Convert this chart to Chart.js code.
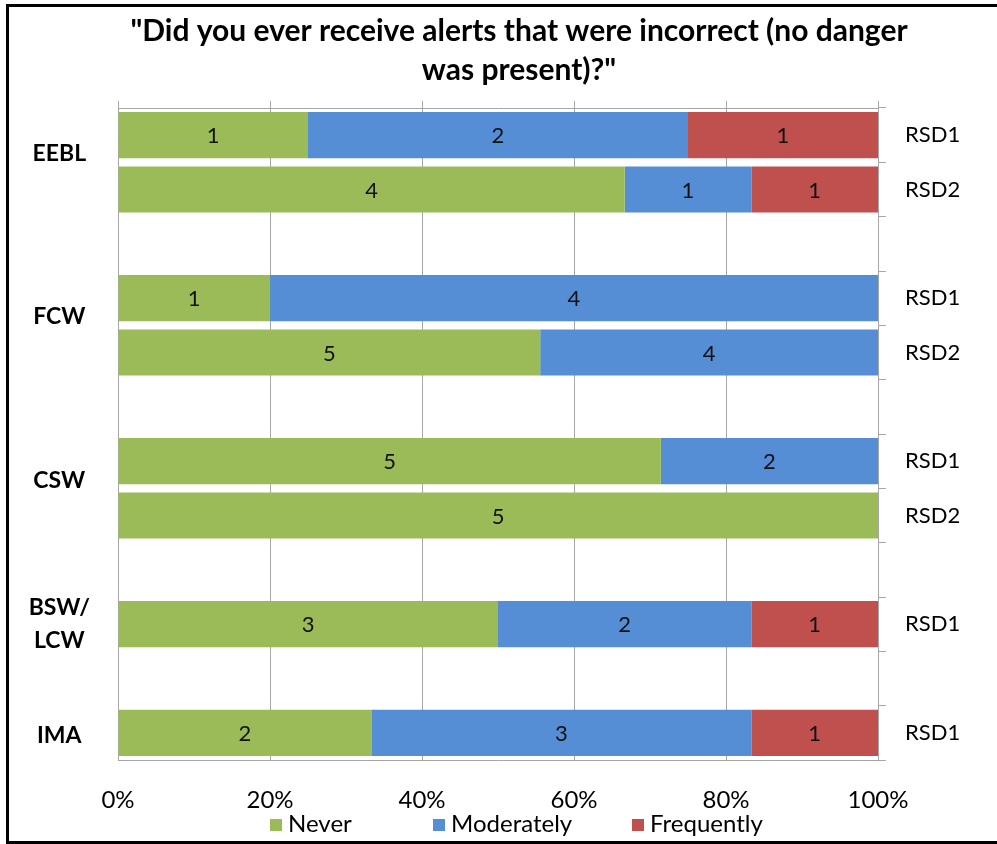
<!DOCTYPE html>
<html>
<head>
<meta charset="utf-8">
<script src="https://cdn.jsdelivr.net/npm/chart.js@4.4.1/dist/chart.umd.min.js"></script>
<style>
  body { margin: 0; background: #fff; }
  #wrap { position: relative; width: 997px; height: 844px; overflow: hidden; font-family: Lato, sans-serif; }
  #frame { position: absolute; left: 6px; top: 4px; width: 1000px; height: 840px;
           box-sizing: border-box; border: 3px solid #000; pointer-events: none; }
  .leg { position: absolute; top: 811px; height: 24px; line-height: 24px; font-size: 24px; color: #000; white-space: nowrap; }
  .leg i { display: inline-block; width: 12px; height: 12px; margin-right: 6px; vertical-align: 1px; }
</style>
</head>
<body>
<div id="wrap">
  <canvas id="alertsChart" width="997" height="844"></canvas>
  <div id="legend"></div>
  <div id="frame"></div>
</div>
<script>
// rows from top to bottom (empty rows are the gaps between groups)
const rowLabels = ['RSD1', 'RSD2', '', 'RSD1', 'RSD2', '', 'RSD1', 'RSD2', '', 'RSD1', '', 'RSD1'];
const groupLabels = ['EEBL', 'FCW', 'CSW', ['BSW/', 'LCW'], 'IMA'];
const groupPos = [0.83, 3.83, 6.85, 9.5, 11.55];

// number of answers per row
const neverCounts      = [1, 4, null, 1, 5, null, 5, 5, null, 3, null, 2];
const moderatelyCounts = [2, 1, null, 4, 4, null, 2, 0, null, 2, null, 3];
const frequentlyCounts = [1, 1, null, 0, 0, null, 0, 0, null, 1, null, 1];

const seriesNames = ['Never', 'Moderately', 'Frequently'];
const seriesColors = ['#9BBB59', '#558ED5', '#C0504D'];
const legendLeft = [270, 433, 632];

const allCounts = [neverCounts, moderatelyCounts, frequentlyCounts];
const rowTotals = rowLabels.map((_, i) => allCounts.reduce((s, c) => s + (c[i] || 0), 0));
const toPct = counts => counts.map((c, i) => c === null ? null : c / rowTotals[i] * 100);

const gridColor = '#A6A6A6';
Chart.defaults.font.family = 'Lato';
Chart.defaults.color = '#000';

// legend under the axis, spaced like the original
document.getElementById('legend').innerHTML = seriesNames.map((name, i) =>
    '<div class="leg" style="left:' + legendLeft[i] + 'px"><i style="background:' + seriesColors[i] + '"></i>' + name + '</div>'
).join('');

const barLabels = {
    id: 'barLabels',
    afterDatasetsDraw(chart) {
        const ctx = chart.ctx;
        ctx.save();
        ctx.font = '22px Lato';
        ctx.fillStyle = '#111';
        ctx.textAlign = 'center';
        ctx.textBaseline = 'middle';
        chart.data.datasets.forEach((ds, i) => {
            chart.getDatasetMeta(i).data.forEach((bar, j) => {
                const n = allCounts[i][j];
                if (!n) return;
                const p = bar.getProps(['x', 'base', 'y'], true);
                ctx.fillText(String(n), (p.x + p.base) / 2, p.y + 1);
            });
        });
        ctx.restore();
    }
};

// don't clip tick labels to the axis box
const noClip = s => { s._computeLabelArea = () => undefined; };

new Chart(document.getElementById('alertsChart').getContext('2d'), {
    type: 'bar',
    plugins: [barLabels],
    data: {
        labels: rowLabels,
        datasets: seriesNames.map((name, i) => ({
            label: name,
            data: toPct(allCounts[i]),
            backgroundColor: seriesColors[i],
            borderWidth: 0,
            categoryPercentage: 1,
            barPercentage: 0.85,
            xAxisID: 'x',
            yAxisID: 'y'
        }))
    },
    options: {
        indexAxis: 'y',
        responsive: false,
        animation: false,
        layout: { padding: { left: 41, right: 0, top: 0, bottom: 0 } },
        scales: {
            x: {
                position: 'bottom',
                stacked: true,
                min: 0,
                max: 100,
                ticks: { stepSize: 20, padding: 26, font: { size: 24 }, callback: v => v + '%' },
                grid: { color: gridColor, drawTicks: false },
                border: { display: true, color: gridColor, width: 1 },
                afterFit: s => { s.height = 84; noClip(s); }
            },
            x2: {
                position: 'top',
                min: 0,
                max: 100,
                ticks: { stepSize: 20, display: false },
                grid: { color: gridColor, drawOnChartArea: false, drawTicks: true, tickLength: 7 },
                border: { display: true, color: gridColor, width: 1 },
                afterFit: s => { s.height = 18; }
            },
            y: {
                position: 'right',
                stacked: true,
                ticks: { padding: 19, font: { size: 22 } },
                grid: { color: gridColor, drawOnChartArea: false, drawTicks: true, tickLength: 8 },
                border: { display: true, color: gridColor, width: 1 },
                afterFit: s => { s.width = 119; }
            },
            yg: {
                position: 'left',
                type: 'linear',
                offset: false,
                reverse: true,
                min: 0,
                max: 12,
                afterBuildTicks: s => { s.ticks = groupPos.map(v => ({ value: v })); },
                ticks: {
                    padding: 28,
                    crossAlign: 'center',
                    font: { size: 23, weight: 'bold', lineHeight: 1.4 },
                    callback: (v, i) => groupLabels[i]
                },
                grid: { display: false, drawTicks: false },
                border: { display: true, color: gridColor, width: 1 },
                afterFit: s => { s.width = 77; noClip(s); }
            }
        },
        plugins: {
            title: {
                display: true,
                text: ['"Did you ever receive alerts that were incorrect (no danger', 'was present)?"'],
                font: { size: 30, weight: 'bold', lineHeight: 1.3 },
                color: '#000',
                padding: { top: 12, bottom: 0 }
            },
            legend: { display: false },
            tooltip: { enabled: false }
        }
    }
});
</script>
</body>
</html>
